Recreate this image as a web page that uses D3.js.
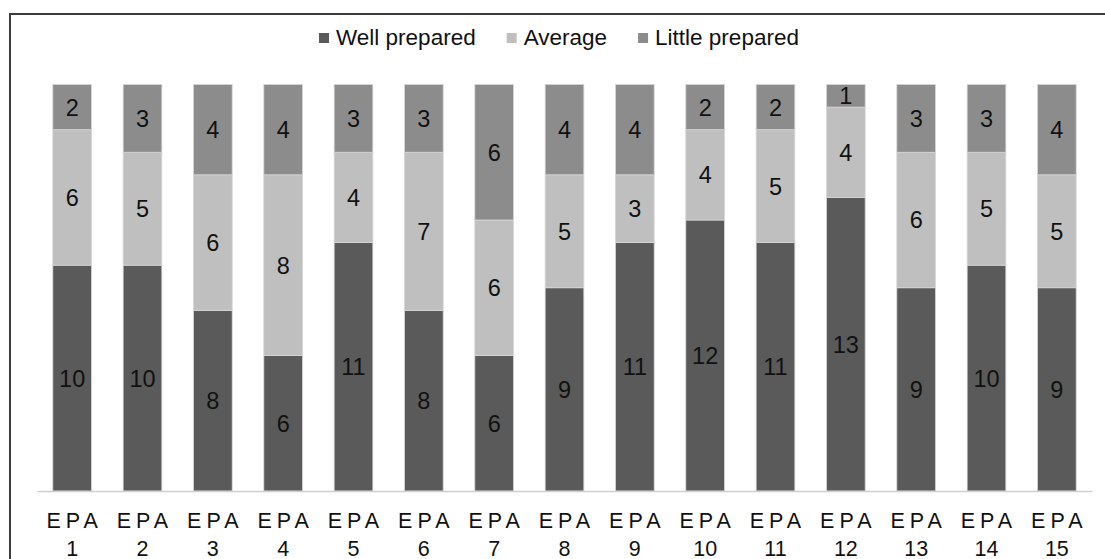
<!DOCTYPE html>
<html>
<head>
<meta charset="utf-8">
<script src="https://cdn.jsdelivr.net/npm/d3@7/dist/d3.min.js"></script>
<style>
  html, body { margin: 0; padding: 0; background: #fff; }
  svg { display: block; font-family: "Liberation Sans", Arial, sans-serif; }
</style>
</head>
<body>
<svg id="chart" width="1105" height="559"></svg>
<script>
// Preparedness ratings per EPA (counts of respondents)
const categories = ["EPA 1","EPA 2","EPA 3","EPA 4","EPA 5","EPA 6","EPA 7","EPA 8",
                    "EPA 9","EPA 10","EPA 11","EPA 12","EPA 13","EPA 14","EPA 15"];
const wellPrepared   = [10, 10, 8, 6, 11, 8, 6, 9, 11, 12, 11, 13, 9, 10, 9];
const average        = [ 6,  5, 6, 8,  4, 7, 6, 5,  3,  4,  5,  4, 6,  5, 5];
const littlePrepared = [ 2,  3, 4, 4,  3, 3, 6, 4,  4,  2,  2,  1, 3,  3, 4];

const seriesNames  = ["Well prepared", "Average", "Little prepared"];
const seriesColors = ["#5a5a5a", "#bfbfbf", "#8c8c8c"];
const yMax = 18;

const rows = categories.map((c, i) => ({
  cat: c,
  "Well prepared": wellPrepared[i],
  "Average": average[i],
  "Little prepared": littlePrepared[i]
}));

const svg = d3.select("#chart");

// chart frame (left and top edges)
svg.append("line").attr("x1", 10).attr("x2", 1105).attr("y1", 14).attr("y2", 14)
  .attr("stroke", "#3c3c3c").attr("stroke-width", 2);
svg.append("line").attr("x1", 10).attr("x2", 10).attr("y1", 13).attr("y2", 559)
  .attr("stroke", "#3c3c3c").attr("stroke-width", 2);

const x = d3.scaleBand().domain(categories).range([37, 1092])
  .paddingInner(0.45).paddingOuter(0.225);
const y = d3.scaleLinear().domain([0, yMax]).range([491, 84.5]);
const color = d3.scaleOrdinal().domain(seriesNames).range(seriesColors);

const stacked = d3.stack().keys(seriesNames)(rows);

const layers = svg.append("g").selectAll("g").data(stacked).join("g")
  .attr("fill", d => color(d.key));

layers.selectAll("rect").data(d => d).join("rect")
  .attr("x", d => x(d.data.cat))
  .attr("width", x.bandwidth())
  .attr("y", d => y(d[1]))
  .attr("height", d => y(d[0]) - y(d[1]))
  .attr("stroke", "#d6d6d6")
  .attr("stroke-width", 0.8);

// value labels centred in each segment
const labels = svg.append("g");
stacked.forEach(layer => {
  labels.selectAll(null).data(layer).join("text")
    .attr("x", d => x(d.data.cat) + x.bandwidth() / 2)
    .attr("y", d => (y(d[0]) + y(d[1])) / 2)
    .attr("dy", "0.36em")
    .attr("text-anchor", "middle")
    .attr("font-size", 23.5)
    .attr("fill", "#111")
    .text(d => d[1] - d[0]);
});

// category axis
const axis = svg.append("g").attr("transform", "translate(0,491)")
  .call(d3.axisBottom(x).tickSize(0).tickFormat(""));
axis.select(".domain").attr("stroke", "#cfcfcf").attr("stroke-width", 1.5);
axis.selectAll(".tick text").remove();
axis.selectAll(".tick").each(function(d) {
  const parts = d.split(" ");
  const g = d3.select(this);
  g.append("text")
    .attr("y", 37).attr("dx", 2.5)
    .attr("text-anchor", "middle")
    .attr("font-size", 21.5).attr("fill", "#111")
    .style("letter-spacing", "5px")
    .text(parts[0]);
  g.append("text")
    .attr("y", 64.5)
    .attr("text-anchor", "middle")
    .attr("font-size", 21.5).attr("fill", "#111")
    .text(parts[1]);
});

// legend
const legend = svg.append("g");
let lx = 319;
seriesNames.forEach(name => {
  legend.append("rect").attr("x", lx).attr("y", 33).attr("width", 10).attr("height", 10)
    .attr("fill", color(name));
  const t = legend.append("text").attr("x", lx + 17).attr("y", 45)
    .attr("font-size", 22.5).attr("fill", "#111").text(name);
  lx += 17 + t.node().getComputedTextLength() + 31;
});
</script>
</body>
</html>
